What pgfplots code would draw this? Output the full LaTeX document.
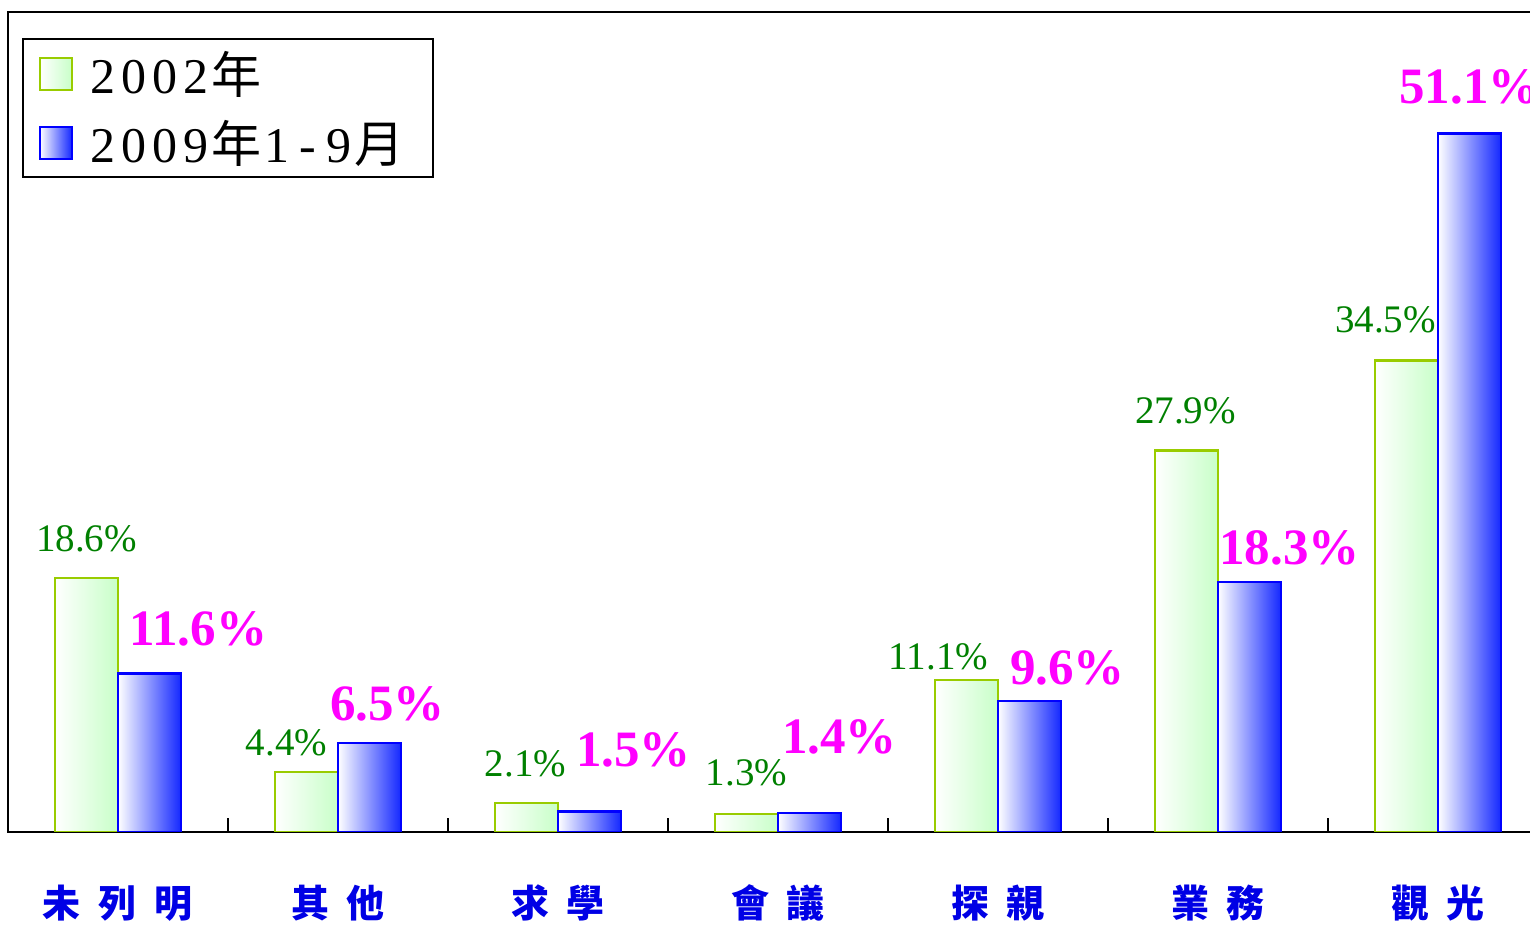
\documentclass[border=0pt]{standalone}
\usepackage{fontspec}
\usepackage{pgfplots}
\usepackage{pgfplotstable}
\pgfplotsset{compat=1.18}
\setmainfont{Liberation Serif}
\newfontfamily\cjk{Noto Sans CJK TC}
\definecolor{gline}{RGB}{153,204,0}
\definecolor{gfill}{RGB}{200,255,200}
\definecolor{bfill}{RGB}{20,40,255}
\definecolor{glab}{RGB}{0,128,0}
\definecolor{mlab}{RGB}{255,0,255}
\newcommand\lc[1]{\makebox[15.5pt][c]{#1}}
\pgfplotstableread{
x y dx dy
0 18.6 0 13
1 4.4 -10 8
2 2.1 -0.5 13.5
3 1.3 0 14.5
4 11.1 -14 5.5
5 27.9 -0.5 13.5
6 34.5 -10.5 14
}\greendata
\pgfplotstableread{
x y dx dy
0 11.6 24.5 14
1 6.5 9 11.5
2 1.5 22 22.5
3 1.4 15 29.5
4 9.6 19 8
5 18.3 20 8.5
6 51.1 0 15
}\bluedata
\pgfplotsset{
  gbar/.style={draw=gline, line width=1.2pt, left color=white, right color=gfill},
  bbar/.style={draw=blue, line width=1.2pt, left color=white, right color=bfill},
}
\begin{document}
\begin{tikzpicture}
\begin{axis}[
  name=ax,
  scale only axis,
  width=770pt, height=410pt,
  xmin=-0.5, xmax=6.5, ymin=0, ymax=60,
  ybar=0pt, bar width=31.5pt,
  axis line style={line width=1pt, black},
  ytick=\empty,
  xtick={0,...,6},
  xticklabels={
    {未\hspace{9pt}列\hspace{9pt}明},
    {其\hspace{9pt}他},
    {求\hspace{9pt}學},
    {會\hspace{9pt}議},
    {探\hspace{9pt}親},
    {業\hspace{9pt}務},
    {觀\hspace{9pt}光}},
  major tick length=0pt,
  minor xtick={0.5,1.5,...,5.5},
  minor tick length=7pt,
  xtick pos=bottom,
  tick align=inside,
  minor tick style={line width=1pt, black},
  xticklabel style={font=\cjk\bfseries\fontsize{19}{22}\selectfont, text=blue!90!black, anchor=center, yshift=-35.5pt},
  /pgf/number format/assume math mode=true,
  unbounded coords=discard,
  nodes near coords={\pgfmathprintnumber[fixed,fixed zerofill,precision=1]{\pgfplotspointmeta}\%},
  visualization depends on={\thisrow{dx} \as \dx},
  visualization depends on={\thisrow{dy} \as \dy},
  legend image code/.code={\draw[#1, line width=1pt] (0pt,-8pt) rectangle (16pt,8pt);},
  legend style={at={(0,1)}, anchor=north west, xshift=7pt, yshift=-13pt,
    draw=black, line width=1pt, font=\fontsize{25}{30}\selectfont,
    inner xsep=8pt, inner ysep=4pt, row sep=8pt},
  legend cell align=left,
]
\pgfplotsinvokeforeach{0,...,6}{
\addplot[gbar, forget plot, bar shift=-15.75pt, x filter/.expression={x==#1 ? x : nan},
  nodes near coords style={anchor=base, inner sep=0pt, xshift=\dx pt, yshift=\dy pt,
    text=glab, font=\fontsize{19.5}{22}\selectfont}]
  table[x=x,y=y] {\greendata};
\addplot[bbar, forget plot, bar shift=15.75pt, x filter/.expression={x==#1 ? x : nan},
  nodes near coords style={anchor=base, inner sep=0pt, xshift=\dx pt, yshift=\dy pt,
    text=mlab, font=\bfseries\fontsize{25.5}{28}\selectfont}]
  table[x=x,y=y] {\bluedata};
}
\addlegendimage{gbar}
\addlegendentry{\hspace{5pt}\lc{2}\lc{0}\lc{0}\lc{2}{\cjk 年}}
\addlegendimage{bbar}
\addlegendentry{\hspace{5pt}\lc{2}\lc{0}\lc{0}\lc{9}{\cjk 年}\lc{1}\lc{-}\lc{9}{\cjk 月}\rule{4.5pt}{0pt}}
\end{axis}
\pgfresetboundingbox
\path[use as bounding box] ([xshift=-4pt,yshift=-46.5pt]ax.south west) rectangle ([xshift=761pt,yshift=6pt]ax.north west);
\end{tikzpicture}
\end{document}
